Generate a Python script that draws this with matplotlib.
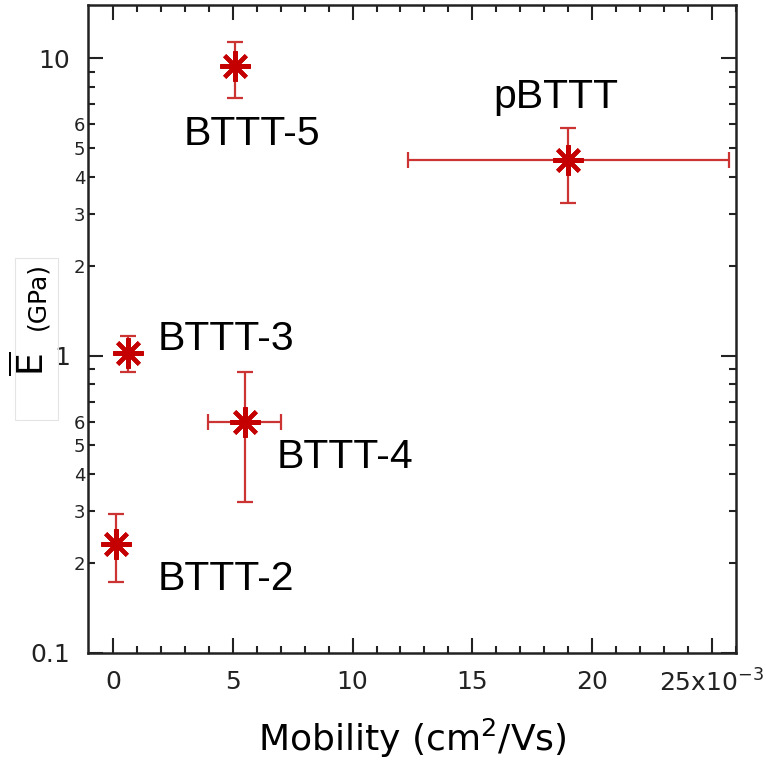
import numpy as np
import matplotlib
matplotlib.use('Agg')
import matplotlib.pyplot as plt
from matplotlib.ticker import FixedLocator, FuncFormatter, LogLocator
from matplotlib.patches import Rectangle

# sample names and measured values (mobility in cm^2/Vs, modulus in GPa)
names = ['BTTT-2', 'BTTT-3', 'BTTT-4', 'BTTT-5', 'pBTTT']
mobility = [0.12e-3, 0.63e-3, 5.5e-3, 5.08e-3, 19.0e-3]
mobility_err = [0.0, 0.0, 1.52e-3, 0.0, 6.7e-3]
modulus = [0.233, 1.02, 0.60, 9.4, 4.54]
modulus_low = [0.173, 0.88, 0.323, 7.35, 3.25]
modulus_high = [0.294, 1.16, 0.88, 11.3, 5.82]

# label offsets from each point, in pixels (dx right, dy up)
label_offsets = [(42, -46), (30, 3), (32, -46), (-51, -79), (-12, 52)]
label_ha = ['left', 'left', 'left', 'left', 'center']

x_major = [0, 5e-3, 10e-3, 15e-3, 20e-3, 25e-3]
y_minor_labelled = [2, 3, 4, 5, 6]

mark_color = '#c40000'
bar_color = '#cc3434'

fig = plt.figure(figsize=(7.66, 7.70), dpi=100)
ax = fig.add_axes([88/766, 1 - 653/770, (736 - 88)/766, (653 - 5)/770])

x = np.array(mobility)
y = np.array(modulus)
yerr = [y - np.array(modulus_low), np.array(modulus_high) - y]

ax.errorbar(x, y, yerr=yerr, fmt='none', ecolor=bar_color, elinewidth=1.6,
            capsize=6, capthick=1.6, zorder=2)
xe = np.array(mobility_err)
has_xe = xe > 0
ax.errorbar(x[has_xe], y[has_xe], xerr=xe[has_xe], fmt='none', ecolor=bar_color,
            elinewidth=1.6, capsize=6, capthick=1.6, zorder=2)
ax.plot(x, y, ls='none', marker=(8, 2, 0), ms=22, mew=3.0, color=mark_color, zorder=3)

for name, xi, yi, (dx, dy), ha in zip(names, x, y, label_offsets, label_ha):
    ax.annotate(name, xy=(xi, yi), xytext=(dx, dy), textcoords='offset pixels',
                ha=ha, va='baseline', fontsize=29.5, family='Liberation Sans')

ax.set_yscale('log')
ax.set_xlim(-1.04e-3, 26.0e-3)
ax.set_ylim(0.1, 15.1)

# x ticks
ax.xaxis.set_major_locator(FixedLocator(x_major))
ax.xaxis.set_minor_locator(FixedLocator(np.arange(0, 26.5e-3, 1e-3)))

def xfmt(v, pos):
    n = int(round(v * 1e3))
    if n == 25:
        return r'25x10$^{-3}$'
    return str(n)

ax.xaxis.set_major_formatter(FuncFormatter(xfmt))

# y ticks
ax.yaxis.set_major_locator(FixedLocator([0.1, 1, 10]))
ax.yaxis.set_minor_locator(LogLocator(base=10, subs=np.arange(2, 10)))
ax.yaxis.set_major_formatter(FuncFormatter(lambda v, p: '%g' % v))

def yminor(v, pos):
    e = np.floor(np.log10(v) + 1e-9)
    m = int(round(v / 10**e))
    if m in y_minor_labelled and v < 10:
        return str(m)
    return ''

ax.yaxis.set_minor_formatter(FuncFormatter(yminor))

ax.tick_params(which='both', direction='in', top=True, right=True, colors='#222222')
ax.tick_params(which='major', length=11, width=1.5)
ax.tick_params(which='minor', length=5, width=1.5)
ax.tick_params(axis='x', which='major', labelsize=18, pad=12)
ax.tick_params(axis='y', which='major', labelsize=18, pad=13)
ax.tick_params(axis='y', which='minor', labelsize=13, pad=2)
for s in ax.spines.values():
    s.set_linewidth(1.8)
    s.set_color('#222222')

ax.set_xlabel(r'Mobility (cm$^2$/Vs)', fontsize=26, labelpad=14)

# y label: E bar with (GPa), drawn as two pieces of different size
fig.patches.append(Rectangle((15/766, 1 - 420/770), 43/766, 162/770,
                             transform=fig.transFigure, fill=False,
                             edgecolor='#e4e4e4', lw=0.8))
fig.text(31/766, 1 - 364/770, r'$\overline{\mathrm{E}}$', rotation=90,
         ha='center', va='center', fontsize=26)
fig.text(37/766, 1 - 296/770, '(GPa)', rotation=90,
         ha='center', va='center', fontsize=18)

fig.savefig('out.png', dpi=100)
